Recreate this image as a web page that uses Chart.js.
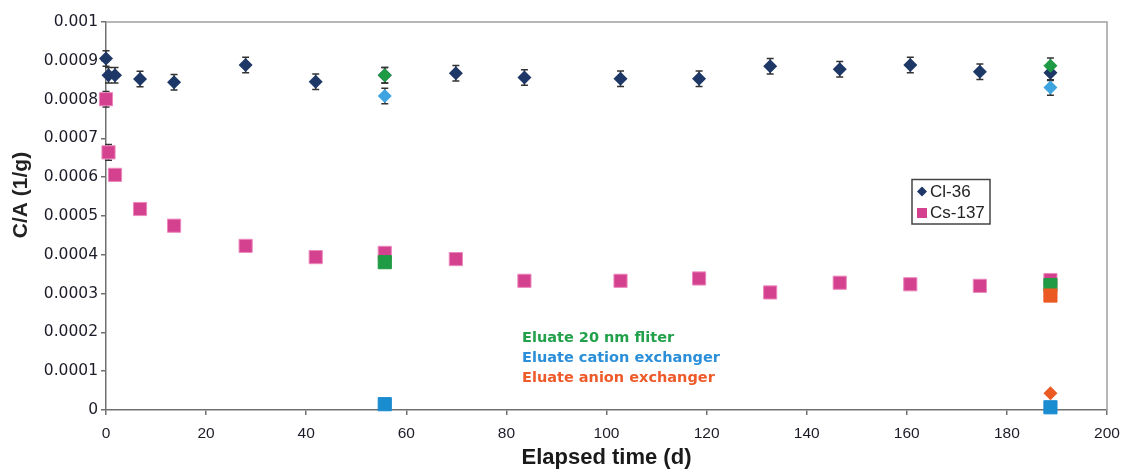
<!DOCTYPE html>
<html>
<head>
<meta charset="utf-8">
<script src="https://cdn.jsdelivr.net/npm/chart.js@4.4.1/dist/chart.umd.min.js"></script>
<style>
  html, body { margin: 0; padding: 0; background: #fff; }
  #wrap { width: 1125px; height: 469px; }
</style>
</head>
<body>
<div id="wrap"><canvas id="chart1" width="1125" height="469"></canvas></div>
<script>
// elapsed time (d) of each sampling
const days = [0, 0.5, 1.8, 6.8, 13.6, 27.9, 41.9, 55.7, 69.9, 83.6, 102.8, 118.5, 132.7, 146.6, 160.7, 174.6, 188.7];
const cl36 = [0.000906, 0.000863, 0.000863, 0.000853, 0.000845, 0.000889, 0.000846, 0.000863, 0.000868, 0.000857, 0.000854, 0.000854, 0.000886, 0.000878, 0.000889, 0.000872, 0.000869];
const cl36Err = [0.00002, 0.00002, 0.00002, 0.00002, 0.00002, 0.00002, 0.00002, 0.00002, 0.00002, 0.00002, 0.00002, 0.00002, 0.00002, 0.00002, 0.00002, 0.00002, 0.00002];
const cs137 = [0.000801, 0.000664, 0.000606, 0.000518, 0.000475, 0.000423, 0.000394, 0.000405, 0.000389, 0.000333, 0.000333, 0.000339, 0.000303, 0.000328, 0.000324, 0.00032, 0.000335];
const cs137Err = [0.00002, 0.00002, 0.00001, 0.00001, 0.00001, 0.00001, 0.00001, 0.00001, 0.00001, 0.00001, 0.00001, 0.00001, 0.00001, 0.00001, 0.00001, 0.00001, 0.00001];

// eluate samples
const eluateDays = [55.7, 188.7];
const filterCl = [0.000863, 0.000887];
const filterCs = [0.000381, 0.000322];
const cationCl = [0.000809, 0.000831];
const cationCs = [0.000015, 0.000007];
const anionDays = [188.7];
const anionCl = [0.000043];
const anionCs = [0.000295];

const xTicks = [0, 20, 40, 60, 80, 100, 120, 140, 160, 180, 200];

const navy = '#1d3766';
const pink = '#d4418e';
const green = '#1f9a45';
const lightBlue = '#3da4e0';
const blue = '#1a8cd0';
const orange = '#ec5a24';

function pts(xs, ys) {
    return xs.map(function(x, i) { return { x: x, y: ys[i] }; });
}

const errorBars = {
    id: 'errorBars',
    beforeDatasetsDraw: function(chart) {
        const ctx = chart.ctx;
        const y = chart.scales.y;
        ctx.save();
        ctx.strokeStyle = '#333';
        ctx.lineWidth = 1.5;
        chart.data.datasets.forEach(function(ds, i) {
            if (!ds.yErr) return;
            const meta = chart.getDatasetMeta(i);
            meta.data.forEach(function(el, j) {
                const v = ds.data[j].y;
                const top = y.getPixelForValue(v + ds.yErr[j]);
                const bot = y.getPixelForValue(v - ds.yErr[j]);
                ctx.beginPath();
                ctx.moveTo(el.x, top);
                ctx.lineTo(el.x, bot);
                ctx.moveTo(el.x - 3.5, top);
                ctx.lineTo(el.x + 3.5, top);
                ctx.moveTo(el.x - 3.5, bot);
                ctx.lineTo(el.x + 3.5, bot);
                ctx.stroke();
            });
        });
        ctx.restore();
    }
};

const extras = {
    id: 'extras',
    afterDraw: function(chart) {
        const ctx = chart.ctx;
        const a = chart.chartArea;
        ctx.save();
        // frame top / right
        ctx.strokeStyle = '#a0a0a0';
        ctx.lineWidth = 1.5;
        ctx.beginPath();
        ctx.moveTo(a.left, a.top);
        ctx.lineTo(a.right, a.top);
        ctx.lineTo(a.right, a.bottom);
        ctx.stroke();

        // y title
        ctx.save();
        ctx.translate(21, 195);
        ctx.rotate(-Math.PI / 2);
        ctx.fillStyle = '#222';
        ctx.font = 'bold 21px "Liberation Sans", Arial, sans-serif';
        ctx.textAlign = 'center';
        ctx.textBaseline = 'middle';
        ctx.fillText('C/A (1/g)', 0, 0);
        ctx.restore();

        // legend
        ctx.strokeStyle = '#444';
        ctx.lineWidth = 1.5;
        ctx.strokeRect(912, 179.5, 78, 44.5);
        ctx.fillStyle = navy;
        ctx.beginPath();
        ctx.moveTo(922, 186.5); ctx.lineTo(927, 191.5); ctx.lineTo(922, 196.5); ctx.lineTo(917, 191.5);
        ctx.closePath();
        ctx.fill();
        ctx.fillStyle = pink;
        ctx.fillRect(917, 208, 10, 10);
        ctx.fillStyle = '#222';
        ctx.font = '17px "Liberation Sans", Arial, sans-serif';
        ctx.textAlign = 'left';
        ctx.textBaseline = 'middle';
        ctx.fillText('Cl-36', 930, 192);
        ctx.fillText('Cs-137', 930, 213.5);

        // eluate notes
        ctx.font = 'bold 14.5px "DejaVu Sans", sans-serif';
        ctx.fillStyle = '#22a04a';
        ctx.fillText('Eluate 20 nm fliter', 522, 338);
        ctx.fillStyle = '#2a8fd8';
        ctx.fillText('Eluate cation exchanger', 522, 358);
        ctx.fillStyle = '#ee5a2a';
        ctx.fillText('Eluate anion exchanger', 522, 378);
        ctx.restore();
    }
};

function diamonds(label, xs, ys, color, order, err) {
    return {
        label: label, data: pts(xs, ys), yErr: err, order: order, clip: false,
        pointStyle: 'rectRot', pointRadius: 7, pointHoverRadius: 7,
        backgroundColor: color, borderColor: color, borderWidth: 0
    };
}
function squares(label, xs, ys, color, border, order, err) {
    return {
        label: label, data: pts(xs, ys), yErr: err, order: order, clip: false,
        pointStyle: 'rect', pointRadius: 9.3, pointHoverRadius: 9.3,
        backgroundColor: color, borderColor: border, borderWidth: 1
    };
}

new Chart('chart1', {
    type: 'scatter',
    data: {
        datasets: [
            squares('Cs-137', days, cs137, pink, '#ec88bd', 8, cs137Err),
            diamonds('Cl-36', days, cl36, navy, 7, cl36Err),
            squares('Filter Cs', eluateDays, filterCs, green, green, 6),
            diamonds('Filter Cl', eluateDays, filterCl, green, 5, [0.00002, 0.00002]),
            squares('Cation Cs', eluateDays, cationCs, blue, blue, 4),
            diamonds('Cation Cl', eluateDays, cationCl, lightBlue, 3, [0.00002, 0.00002]),
            squares('Anion Cs', anionDays, anionCs, orange, orange, 2),
            diamonds('Anion Cl', anionDays, anionCl, orange, 1)
        ]
    },
    options: {
        responsive: false,
        animation: false,
        layout: { autoPadding: false, padding: { top: 22, right: 18, bottom: 0, left: 0 } },
        plugins: {
            legend: { display: false },
            tooltip: { enabled: false }
        },
        scales: {
            x: {
                type: 'linear',
                min: 0,
                max: 200,
                afterFit: function(scale) {
                    scale.height = 59;
                    scale.paddingLeft = 0;
                    scale.paddingRight = 0;
                },
                afterBuildTicks: function(scale) {
                    scale.ticks = xTicks.map(function(v) { return { value: v }; });
                },
                border: { color: '#707070', width: 1.5 },
                grid: { drawOnChartArea: false, drawTicks: true, tickLength: 5, color: '#707070', lineWidth: 1.5 },
                ticks: {
                    color: '#1c1c28',
                    padding: 9,
                    maxRotation: 0,
                    font: { family: '"Liberation Sans", Arial, sans-serif', size: 15.5 }
                },
                title: {
                    display: true,
                    text: 'Elapsed time (d)',
                    color: '#1a1a1a',
                    padding: { top: 0, bottom: 0 },
                    font: { family: '"Liberation Sans", Arial, sans-serif', size: 22, weight: 'bold', lineHeight: 1 }
                }
            },
            y: {
                min: 0,
                max: 0.001,
                afterFit: function(scale) { scale.width = 106; },
                border: { color: '#707070', width: 1.5 },
                grid: { drawOnChartArea: false, drawTicks: true, tickLength: 5, color: '#707070', lineWidth: 1.5 },
                ticks: {
                    stepSize: 0.0001,
                    color: '#1c1c28',
                    padding: 3,
                    font: { family: '"DejaVu Sans", sans-serif', size: 15.5 },
                    callback: function(v) {
                        return v === 0 ? '0' : String(parseFloat(v.toFixed(4)));
                    }
                }
            }
        }
    },
    plugins: [errorBars, extras]
});
</script>
</body>
</html>
